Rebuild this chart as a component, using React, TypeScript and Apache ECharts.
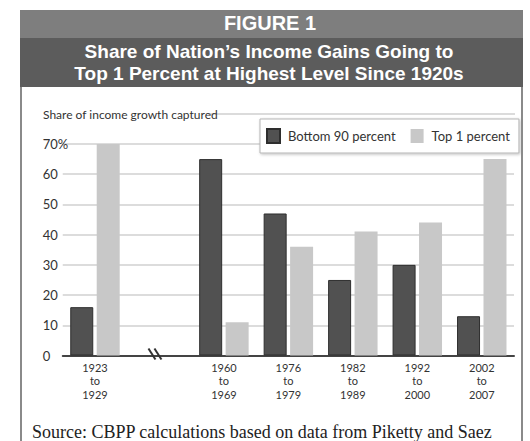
import React, { useEffect, useRef } from "react";
import * as echarts from "echarts";

const categories = ["1923\nto\n1929", "", "1960\nto\n1969", "1976\nto\n1979", "1982\nto\n1989", "1992\nto\n2000", "2002\nto\n2007"];
const bottom90 = [16, null, 65, 47, 25, 30, 13];
const top1 = [70, null, 11, 36, 41, 44, 65];
const seriesNames = ["Bottom 90 percent", "Top 1 percent"];
const breakIndex = 1;

const headerTitle = "FIGURE 1";
const titleLine1 = "Share of Nation\u2019s Income Gains Going to";
const titleLine2 = "Top 1 Percent at Highest Level Since 1920s";
const axisTitle = "Share of income growth captured";
const sourceText = "Source: CBPP calculations based on data from Piketty and Saez";

const NARROW = "Lato, 'Liberation Sans', sans-serif";

export default function App() {
  const ref = useRef<HTMLDivElement>(null);
  useEffect(() => {
    if (!ref.current) return;
    const chart = echarts.init(ref.current, null, { renderer: "svg" });
    const staticGraphics: any[] = [
      // header bands
      { type: "rect", shape: { x: 20, y: 10, width: 503, height: 28 }, style: { fill: "#7e7e7e" }, z: 10 },
      { type: "rect", shape: { x: 20, y: 38, width: 503, height: 49 }, style: { fill: "#5c5c5c" }, z: 10 },
      { type: "text", x: 270, y: 23, style: { text: headerTitle, fill: "#fff", font: "bold 20px 'Liberation Sans', Arial, sans-serif", textAlign: "center", textVerticalAlign: "middle" }, z: 11 },
      { type: "text", x: 269, y: 51, style: { text: titleLine1, fill: "#fff", font: "bold 19px 'Liberation Sans', Arial, sans-serif", textAlign: "center", textVerticalAlign: "middle" }, z: 11 },
      { type: "text", x: 269, y: 73, style: { text: titleLine2, fill: "#fff", font: "bold 19px 'Liberation Sans', Arial, sans-serif", textAlign: "center", textVerticalAlign: "middle" }, z: 11 },
      // frame
      { type: "line", shape: { x1: 21, y1: 87, x2: 21, y2: 441 }, style: { stroke: "#8a8a8a", lineWidth: 2 }, z: 10 },
      { type: "line", shape: { x1: 522, y1: 87, x2: 522, y2: 441 }, style: { stroke: "#8a8a8a", lineWidth: 2 }, z: 10 },
      // axis title and rule
      { type: "text", x: 43, y: 114, style: { text: axisTitle, fill: "#333", font: "12px " + NARROW, textVerticalAlign: "middle" }, z: 5 },
      { type: "line", shape: { x1: 208, y1: 114, x2: 515, y2: 114 }, style: { stroke: "#cfcfcf", lineWidth: 1.5 }, z: 1 },
      // source
      { type: "text", x: 32, y: 432, style: { text: sourceText, fill: "#222", font: "18px 'Liberation Serif', 'Times New Roman', serif", textVerticalAlign: "middle" }, z: 5 },
    ];
    const option: any = {
      animation: false,
      backgroundColor: "#fff",
      grid: { left: 62.75, right: 16, top: 144, bottom: 85.5, containLabel: false },
      legend: {
        data: seriesNames,
        left: 260,
        top: 119,
        orient: "horizontal",
        itemWidth: 13,
        itemHeight: 14,
        itemGap: 15,
        padding: [9, 9, 9, 6],
        borderColor: "#b5b5b5",
        borderWidth: 1,
        backgroundColor: "#fff",
        shadowBlur: 3,
        shadowColor: "rgba(0,0,0,0.25)",
        shadowOffsetX: 1,
        shadowOffsetY: 1,
        icon: "rect",
        textStyle: { fontFamily: NARROW, fontSize: 13, color: "#333", padding: [0, 0, 0, 3] },
      },
      xAxis: {
        type: "category",
        data: categories,
        axisLine: { lineStyle: { color: "#444", width: 2 } },
        axisTick: { show: false },
        axisLabel: { fontFamily: NARROW, fontSize: 11, lineHeight: 13.5, color: "#333", margin: 5, interval: 0 },
      },
      yAxis: {
        type: "value",
        min: 0,
        max: 70,
        interval: 10,
        axisLine: { show: false },
        axisTick: { show: false },
        splitLine: { lineStyle: { color: "#d0d0d0", width: 1.5 } },
        axisLabel: {
          fontFamily: NARROW,
          fontSize: 13,
          color: "#333",
          align: "left",
          margin: 20,
          formatter: (v: number) => (v === 70 ? "70%" : String(v)),
        },
      },
      series: [
        {
          name: seriesNames[0],
          type: "bar",
          data: bottom90,
          barWidth: 23,
          barGap: "15%",
          itemStyle: { color: "#515151", borderColor: "#2e2e2e", borderWidth: 1 },
        },
        {
          name: seriesNames[1],
          type: "bar",
          data: top1,
          barWidth: 23,
          itemStyle: { color: "#c8c8c8" },
        },
      ],
      graphic: staticGraphics,
    };
    chart.setOption(option);
    const p = chart.convertToPixel({ xAxisIndex: 0, yAxisIndex: 0 } as any, [breakIndex, 0]) as number[];
    if (p) {
      const [bx, by] = p;
      const g = [
        { type: "line", shape: { x1: bx - 11, y1: by - 7, x2: bx - 4, y2: by + 4 }, style: { stroke: "#333", lineWidth: 2 }, z: 6 },
        { type: "line", shape: { x1: bx - 5, y1: by - 7, x2: bx + 2, y2: by + 4 }, style: { stroke: "#333", lineWidth: 2 }, z: 6 },
      ];
      chart.setOption({ graphic: [...staticGraphics, ...g] });
    }
    return () => chart.dispose();
  }, []);
  return <div ref={ref} style={{ position: "fixed", left: 0, top: 0, width: 530, height: 441 }} />;
}
